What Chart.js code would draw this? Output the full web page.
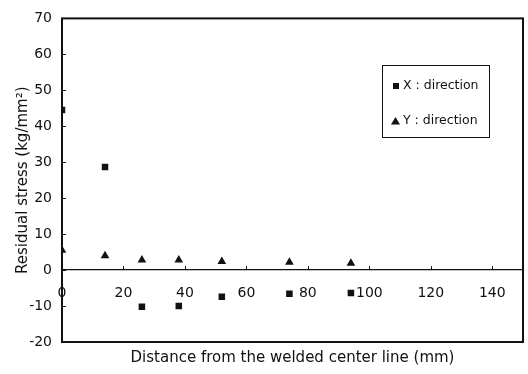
<!DOCTYPE html>
<html>
<head>
<meta charset="utf-8">
<script src="https://cdn.jsdelivr.net/npm/chart.js"></script>
<style>
  body { margin: 0; background: #fff; }
  #wrap { width: 528px; height: 374px; }
</style>
</head>
<body>
<div id="wrap"><canvas id="stressChart" width="528" height="374"></canvas></div>
<script>
// Measured points (distance in mm, stress in kg/mm2)
const distX = [0, 14, 26, 38, 52, 74, 94];
const stressX = [44.5, 28.7, -10.2, -10, -7.4, -6.6, -6.4];
const distY = [0, 14, 26, 38, 52, 74, 94];
const stressY = [5.5, 4.0, 2.8, 2.8, 2.4, 2.2, 1.9];

const seriesLabels = ['X : direction', 'Y : direction'];
const xTitle = 'Distance from the welded center line (mm)';
const yTitle = 'Residual stress (kg/mm\u00B2)';

const ink = '#111';
const fontFamily = "'DejaVu Sans', Verdana, sans-serif";

function toPoints(xs, ys) {
    return xs.map((x, i) => ({ x: x, y: ys[i] }));
}

// Draws the plot frame, the small inward ticks and the boxed legend
const framePlugin = {
    id: 'frame',
    afterDraw(chart) {
        const { ctx, chartArea: a, scales } = chart;
        ctx.save();
        ctx.strokeStyle = ink;
        ctx.lineWidth = 2;
        ctx.strokeRect(a.left, a.top, a.width, a.height);

        ctx.lineWidth = 1;
        ctx.beginPath();
        scales.y.ticks.forEach(t => {
            const py = Math.round(scales.y.getPixelForValue(t.value)) + 0.5;
            ctx.moveTo(a.left, py);
            ctx.lineTo(a.left + 4, py);
        });
        const y0 = scales.y.getPixelForValue(0);
        scales.xz.ticks.forEach(t => {
            if (t.value === 0) return;
            const px = Math.round(scales.xz.getPixelForValue(t.value)) + 0.5;
            ctx.moveTo(px, y0);
            ctx.lineTo(px, y0 - 4);
        });
        ctx.stroke();

        // legend box
        ctx.lineWidth = 1;
        ctx.strokeRect(382.5, 65.5, 107, 72);
        ctx.fillStyle = ink;
        ctx.font = '12.5px ' + fontFamily;
        ctx.textBaseline = 'middle';
        const rows = [86, 121];
        chart.data.datasets.forEach((ds, i) => {
            const y = rows[i];
            if (ds.pointStyle === 'rect') {
                ctx.fillRect(393, y - 3, 6, 6);
            } else {
                ctx.beginPath();
                ctx.moveTo(395.5, y - 4);
                ctx.lineTo(400, y + 3.5);
                ctx.lineTo(391, y + 3.5);
                ctx.closePath();
                ctx.fill();
            }
            ctx.fillText(ds.label, 403, y);
        });
        ctx.restore();
    }
};

new Chart(document.getElementById('stressChart'), {
    type: 'scatter',
    data: {
        datasets: [
            {
                label: seriesLabels[0],
                data: toPoints(distX, stressX),
                pointStyle: 'rect',
                pointRadius: 4.6,
                backgroundColor: ink,
                borderColor: ink,
                borderWidth: 0,
                xAxisID: 'x',
                yAxisID: 'y'
            },
            {
                label: seriesLabels[1],
                data: toPoints(distY, stressY),
                pointStyle: 'triangle',
                pointRadius: 5,
                backgroundColor: ink,
                borderColor: ink,
                borderWidth: 0,
                xAxisID: 'x',
                yAxisID: 'y'
            }
        ]
    },
    options: {
        responsive: false,
        animation: false,
        layout: { padding: { top: 10, right: 4, left: 0, bottom: 0 } },
        plugins: {
            legend: { display: false },
            tooltip: { enabled: false }
        },
        scales: {
            x: {
                type: 'linear',
                position: 'bottom',
                min: 0,
                max: 150,
                grid: { display: false, drawTicks: false },
                border: { display: false },
                ticks: { display: false },
                title: {
                    display: true,
                    text: xTitle,
                    color: ink,
                    font: { family: fontFamily, size: 15 },
                    padding: { top: 0, bottom: 7 }
                },
                afterFit(scale) { scale.height = 32; }
            },
            xz: {
                type: 'linear',
                axis: 'x',
                position: { y: 0 },
                min: 0,
                max: 150,
                grid: { display: false, drawTicks: false },
                border: { display: true, color: ink, width: 1.3 },
                ticks: {
                    stepSize: 20,
                    includeBounds: false,
                    padding: 15,
                    color: ink,
                    font: { family: fontFamily, size: 14 }
                }
            },
            y: {
                type: 'linear',
                position: 'left',
                min: -20,
                max: 70,
                grid: { display: false, drawTicks: false },
                border: { display: false },
                ticks: {
                    stepSize: 10,
                    padding: 10,
                    color: ink,
                    font: { family: fontFamily, size: 14 }
                },
                title: {
                    display: true,
                    text: yTitle,
                    color: ink,
                    font: { family: fontFamily, size: 15 },
                    padding: { top: 14, bottom: 0 }
                },
                afterFit(scale) { scale.width = 62; }
            }
        }
    },
    plugins: [framePlugin]
});
</script>
</body>
</html>
